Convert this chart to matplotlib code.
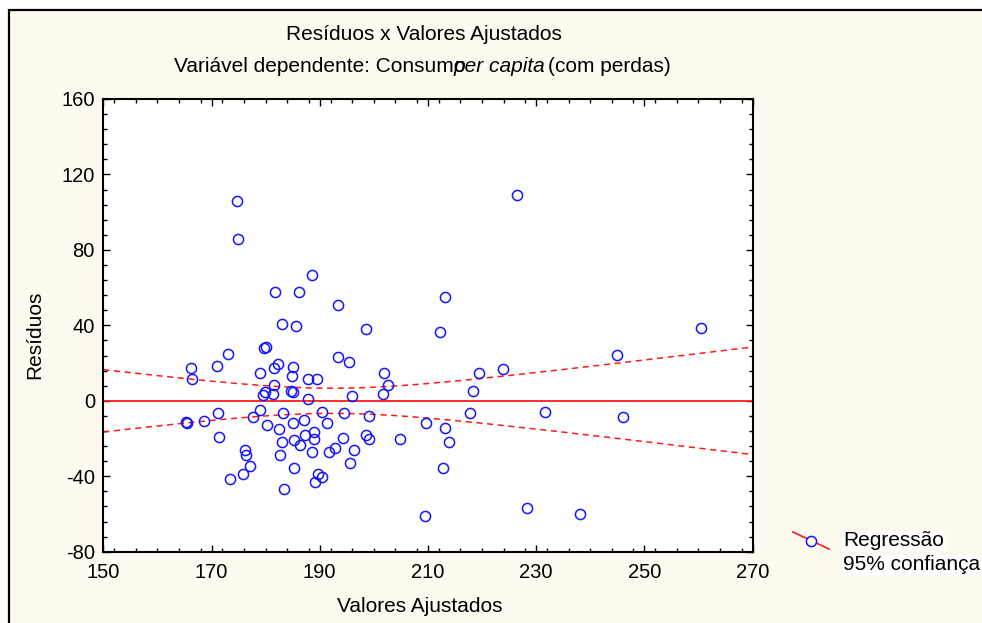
import numpy as np
import matplotlib
matplotlib.use("Agg")
import matplotlib.pyplot as plt
from matplotlib.patches import Rectangle
from matplotlib.lines import Line2D
from matplotlib.ticker import MultipleLocator

plt.rcParams['font.family'] = ['Liberation Sans', 'DejaVu Sans']
plt.rcParams['axes.unicode_minus'] = False

# Fitted values (x) and residuals (y)
fitted = [174.7, 174.9, 226.5, 188.5, 181.8, 186.1, 213.2, 193.4, 183.1, 185.7,
          198.5, 212.3, 260.5, 245.0, 173.1, 179.7, 180.0, 166.2, 166.4, 171.0,
          178.9, 182.2, 181.6, 185.0, 184.9, 193.4, 195.5, 187.9, 189.5, 201.8,
          202.6, 201.7, 219.5, 223.9, 218.4, 181.6, 179.6, 179.9, 181.4, 184.7,
          185.0, 187.8, 196.0, 165.3, 165.5, 168.7, 171.2, 171.4, 178.9, 177.6,
          180.2, 182.4, 183.2, 185.1, 187.1, 190.4, 191.4, 194.4, 199.2, 183.1,
          185.3, 186.3, 187.3, 188.9, 189.0, 194.3, 198.5, 199.2, 204.8, 176.1,
          176.3, 177.2, 182.7, 188.6, 191.8, 192.8, 196.3, 195.6, 185.3, 175.8,
          173.5, 189.6, 190.5, 189.1, 183.4, 209.7, 213.1, 213.9, 212.7, 209.5,
          217.8, 231.6, 246.1, 228.4, 238.2]
residuals = [105.8, 85.6, 109.1, 66.8, 57.7, 57.9, 55.0, 50.9, 40.5, 39.7,
             38.0, 36.3, 38.8, 24.1, 24.6, 28.0, 28.5, 17.3, 11.4, 18.3,
             15.0, 19.4, 17.6, 17.7, 13.4, 23.4, 20.4, 11.7, 11.4, 14.7,
             8.4, 3.6, 14.7, 16.6, 5.1, 8.3, 3.3, 4.7, 3.8, 5.2,
             4.9, 1.1, 2.4, -11.0, -11.6, -10.9, -6.5, -19.1, -5.0, -8.8,
             -12.7, -15.1, -6.7, -11.6, -10.4, -5.7, -11.6, -6.5, -8.0, -21.8,
             -21.0, -23.2, -17.9, -20.0, -16.7, -19.7, -18.2, -20.5, -20.1, -26.2,
             -28.8, -34.4, -28.6, -27.2, -27.1, -25.2, -26.0, -32.9, -35.8, -38.7,
             -41.2, -38.9, -40.2, -42.8, -46.6, -11.7, -14.2, -21.8, -35.4, -61.3,
             -6.5, -6.1, -8.5, -56.8, -60.0]

x_ticks = [150, 170, 190, 210, 230, 250, 270]
y_ticks = [-80, -40, 0, 40, 80, 120, 160]

title = "Resíduos x Valores Ajustados"
sub_a = "Variável dependente: Consumo"
sub_b = "per capita"
sub_c = "(com perdas)"
x_label = "Valores Ajustados"
y_label = "Resíduos"
legend_labels = ["Regressão", "95% confiança"]

cream = "#fefaef"
red = "#ff1a1a"
blue = "#1414ff"
fs = 15

W, H = 982, 623
fig = plt.figure(figsize=(W / 100, H / 100), dpi=100)
fig.patch.set_facecolor("white")

# framed panel background
fig.patches.append(Rectangle((9 / W, -0.05), 1.2, (H - 10) / H + 0.05,
                             transform=fig.transFigure, facecolor=cream,
                             edgecolor="black", linewidth=1.6, zorder=-10))

ax = fig.add_axes([103.3 / W, (H - 551.7) / H, (752.5 - 103.3) / W, (551.7 - 99) / H])
ax.set_facecolor("white")

x = np.asarray(fitted)
y = np.asarray(residuals)

# regression of residuals on fitted values and its 95% confidence band
n = len(x)
xb = x.mean()
sxx = ((x - xb) ** 2).sum()
s = np.sqrt((y ** 2).sum() / (n - 2))
t = 1.986
xs = np.linspace(150, 270, 300)
half = t * s * np.sqrt(1.0 / n + (xs - xb) ** 2 / sxx)
fit = np.zeros_like(xs)

ax.plot(xs, fit, color=red, lw=1.3, zorder=2)
ax.plot(xs, fit + half, color=red, lw=1.1, ls=(0, (4, 3)), zorder=2)
ax.plot(xs, fit - half, color=red, lw=1.1, ls=(0, (4, 3)), zorder=2)

ax.plot(x, y, ls="none", marker="o", ms=7.3, mfc="none", mec=blue, mew=1.1, zorder=3)

ax.set_xlim(150, 270)
ax.set_ylim(-80, 160)
ax.set_xticks(x_ticks)
ax.set_yticks(y_ticks)
ax.xaxis.set_minor_locator(MultipleLocator(4))
ax.yaxis.set_minor_locator(MultipleLocator(8))
ax.tick_params(which="both", direction="in", top=True, right=True,
               width=1.0, colors="black")
ax.tick_params(which="major", length=5, labelsize=14.5)
ax.tick_params(which="minor", length=3)
ax.tick_params(axis="x", which="major", pad=8)
ax.tick_params(axis="y", which="major", pad=6)
for sp in ax.spines.values():
    sp.set_linewidth(1.5)

fig.text(424 / W, 1 - 35 / H, title, ha="center", va="center", fontsize=fs)
fig.text(420 / W, 1 - 606 / H, x_label, ha="center", va="center", fontsize=fs)
fig.text(35 / W, 1 - 335 / H, y_label, ha="center", va="center", rotation=90, fontsize=fs)

# subtitle assembled from three pieces, the italic phrase overlapping the last letter
fig.canvas.draw()
renderer = fig.canvas.get_renderer()
ypos = 1 - 66 / H
ta = fig.text(174 / W, ypos, sub_a, ha="left", va="center", fontsize=fs)
bb = ta.get_window_extent(renderer)
o_w = fig.text(0, 0, "o", fontsize=fs)
ow = o_w.get_window_extent(renderer).width
o_w.remove()
tb = fig.text((bb.x1 - ow) / W, ypos, sub_b, ha="left", va="center",
              fontsize=fs, style="italic")
bb2 = tb.get_window_extent(renderer)
fig.text((bb2.x1 + 3) / W, ypos, sub_c, ha="left", va="center", fontsize=fs)

# legend drawn beside the axes
fig.add_artist(Line2D([793 / W, 829 / W], [1 - 532 / H, 1 - 549 / H],
                      transform=fig.transFigure, color=red, lw=1.2))
fig.add_artist(Line2D([811 / W], [1 - 541 / H], transform=fig.transFigure,
                      ls="none", marker="o", ms=7.3, mfc="white", mec=blue, mew=1.1))
for i, lab in enumerate(legend_labels):
    fig.text(843 / W, 1 - (541 + 24 * i) / H, lab, ha="left", va="center", fontsize=fs,
             bbox=dict(facecolor="white", edgecolor="none", pad=0.5))

fig.savefig("out.png", dpi=100, facecolor=fig.get_facecolor())
